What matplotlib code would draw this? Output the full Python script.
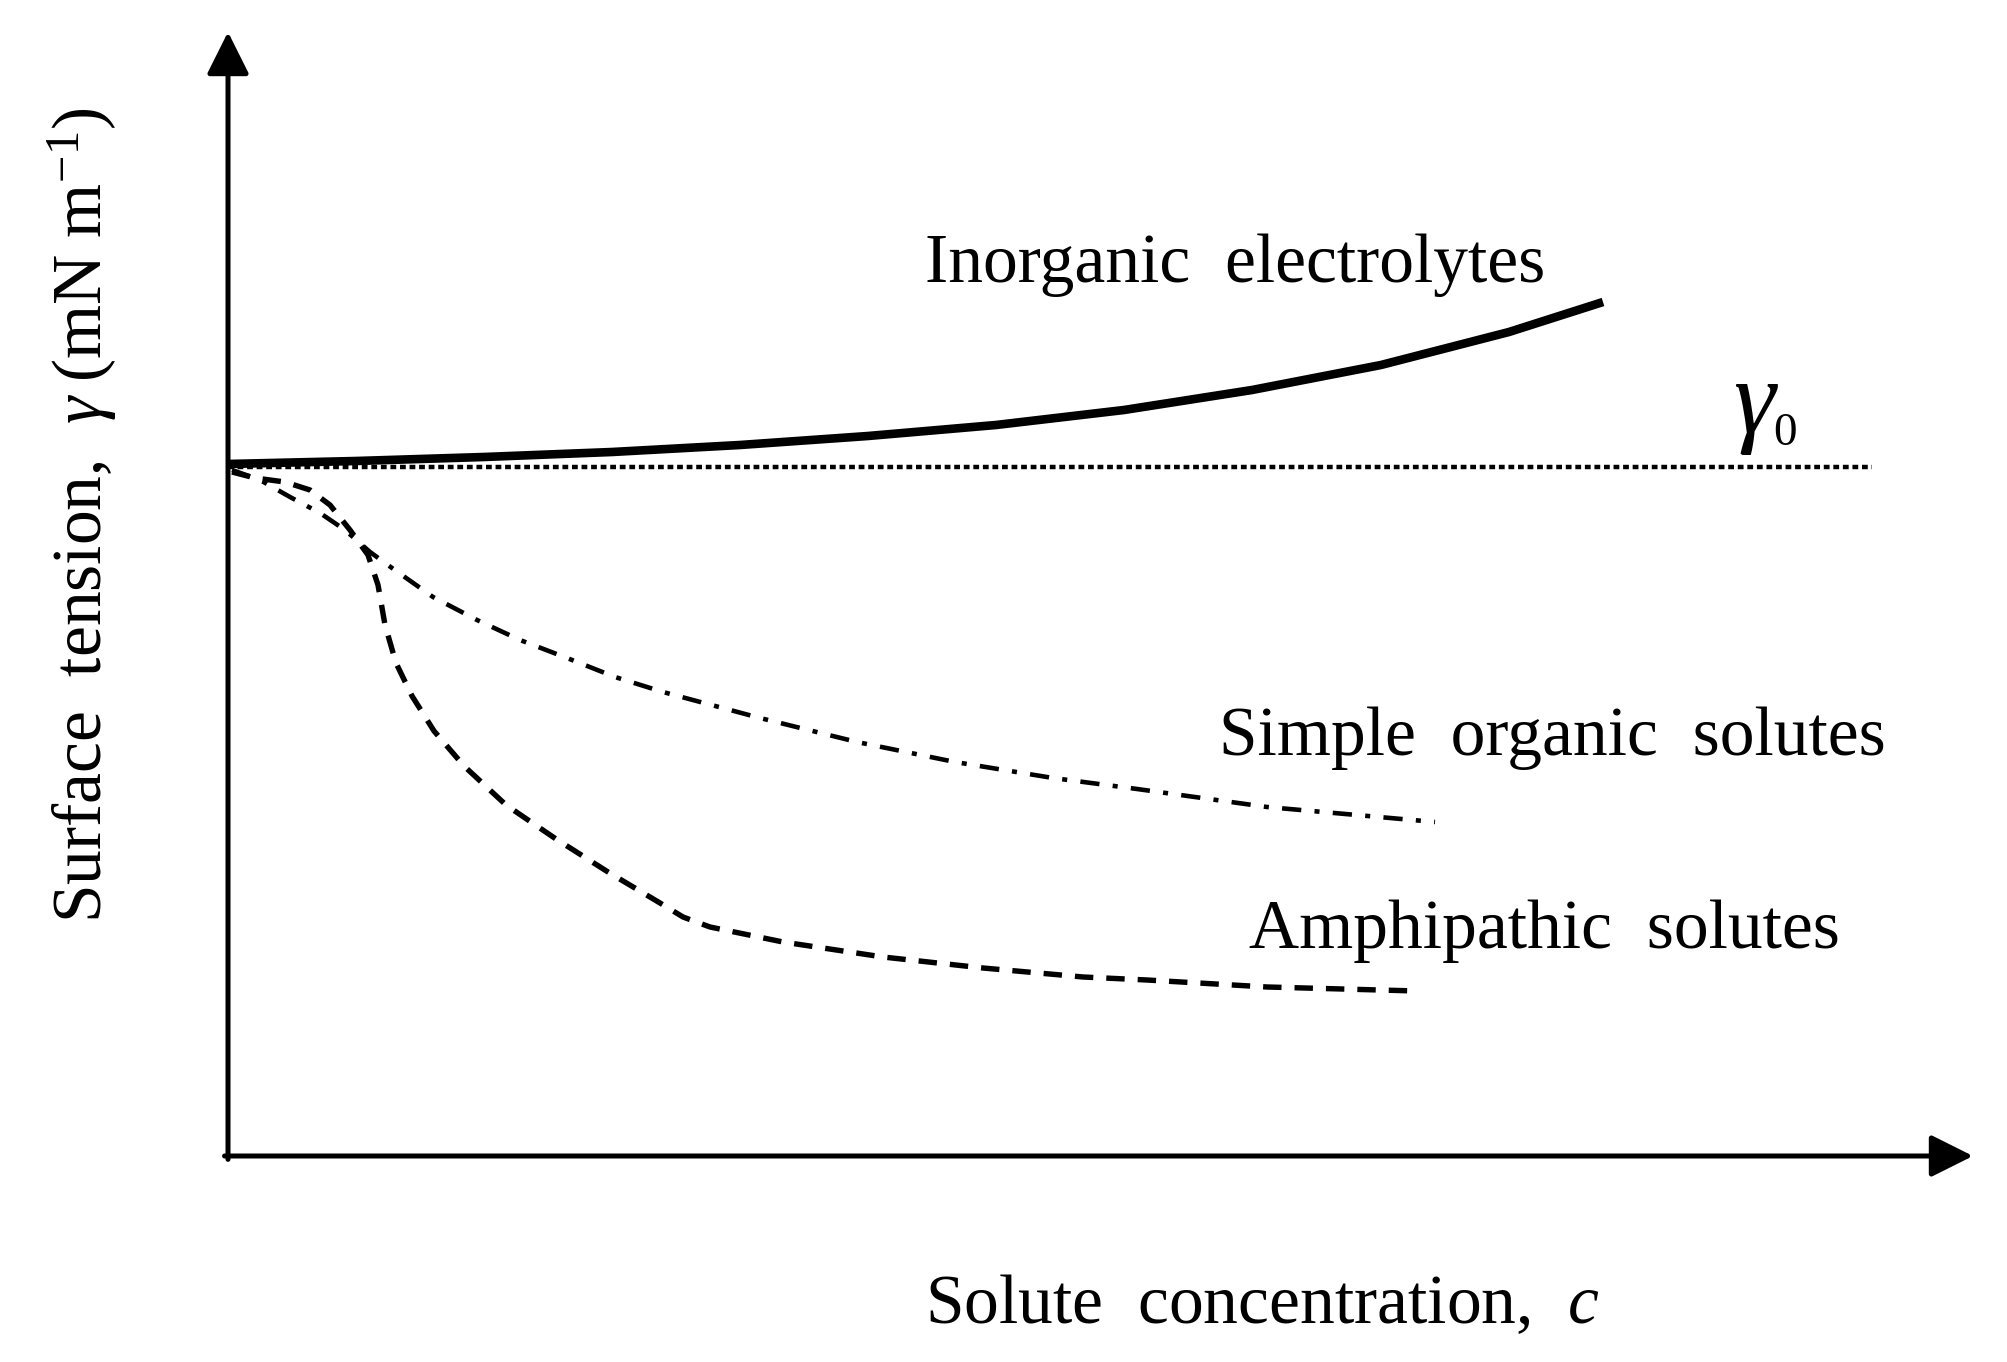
import matplotlib
matplotlib.use('Agg')
import matplotlib.pyplot as plt

plt.rcParams['font.family'] = ['Liberation Serif', 'DejaVu Serif']
plt.rcParams['mathtext.fontset'] = 'custom'
plt.rcParams['mathtext.rm'] = 'Liberation Serif'
plt.rcParams['mathtext.it'] = 'Liberation Serif:italic'

# concentration (arbitrary units) and surface tension (arbitrary units)
gamma0 = 6.89
gamma0_end = 16.44

inorg_c = [0, 1.28, 2.56, 3.84, 5.12, 6.40, 7.68, 8.96, 10.24, 11.53, 12.81, 13.75]
inorg_g = [6.92, 6.95, 6.99, 7.04, 7.11, 7.20, 7.31, 7.46, 7.66, 7.91, 8.24, 8.54]

simple_c = [0.04, 0.32, 0.62, 0.92, 1.17, 1.42, 1.64, 2.05, 2.49, 2.92, 3.39,
            3.87, 4.35, 5.32, 6.29, 7.27, 8.25, 9.09, 10.39, 12.07]
simple_g = [6.86, 6.76, 6.59, 6.43, 6.26, 6.04, 5.88, 5.59, 5.36, 5.16, 4.98,
            4.79, 4.64, 4.38, 4.14, 3.94, 3.78, 3.67, 3.49, 3.34]

amphi_c = [0.04, 0.27, 0.57, 0.82, 1.02, 1.22, 1.40, 1.50, 1.57, 1.68, 1.84,
           2.06, 2.36, 2.78, 3.28, 3.80, 4.32, 4.55, 4.82, 5.55, 6.55, 7.55,
           8.55, 9.19, 10.39, 11.89]
amphi_g = [6.84, 6.78, 6.74, 6.66, 6.51, 6.26, 6.01, 5.71, 5.31, 4.93, 4.60,
           4.25, 3.90, 3.51, 3.17, 2.84, 2.53, 2.39, 2.29, 2.14, 1.99, 1.88,
           1.79, 1.76, 1.69, 1.65]

labels = ['Inorganic  electrolytes', 'Simple  organic  solutes', 'Amphipathic  solutes']
label_pos = [(6.97, 8.74), (9.91, 4.01), (10.21, 2.08)]

fig = plt.figure(figsize=(20.08, 13.62), dpi=100)
ax = fig.add_axes([0.11355, 0.15125, 0.86902, 0.82526])
ax.set_xlim(0, 17.45)
ax.set_ylim(0, 11.24)
ax.axis('off')

# axes with arrows
arrow = dict(arrowstyle='-|>,head_length=26,head_width=13', lw=3.6, color='k',
             shrinkA=0, shrinkB=0, mutation_scale=1)
ax.annotate('', xy=(0, 1), xytext=(0, -0.003), xycoords='axes fraction', arrowprops=arrow)
ax.annotate('', xy=(1, 0), xytext=(-0.002, 0), xycoords='axes fraction', arrowprops=arrow)

# reference line gamma_0
ax.plot([0, gamma0_end], [gamma0, gamma0], color='k', lw=3.2,
        linestyle=(0, (1.3, 0.85)), dash_capstyle='butt', clip_on=False)

ax.plot(inorg_c, inorg_g, color='k', lw=6.2, solid_capstyle='butt',
        solid_joinstyle='round', clip_on=False)
ax.plot(simple_c, simple_g, color='k', lw=3.3, linestyle=(0, (4.2, 2.9, 1.1, 2.9)),
        dash_capstyle='butt', clip_on=False)
ax.plot(amphi_c, amphi_g, color='k', lw=3.9, linestyle=(0, (3.4, 2.4)),
        dash_capstyle='butt', clip_on=False)

for txt, (x, y) in zip(labels, label_pos):
    ax.text(x, y, txt, fontsize=50, ha='left', va='baseline')

ax.text(15.05, 7.24, '\u03b3', fontsize=76, style='italic', ha='left', va='baseline')
ax.text(15.45, 7.11, '0', fontsize=34, ha='left', va='baseline')

fig.text(925 / 2008, 1 - 1323 / 1362, r'Solute  concentration,  $c$', fontsize=50,
         ha='left', va='baseline')
fig.text(102 / 2008, 1 - 515 / 1362, r'Surface  tension,  $\gamma\;$(mN m$^{-1}$)',
         fontsize=50, rotation=90, rotation_mode='anchor', ha='center', va='baseline')

plt.savefig('out.png', dpi=100)
